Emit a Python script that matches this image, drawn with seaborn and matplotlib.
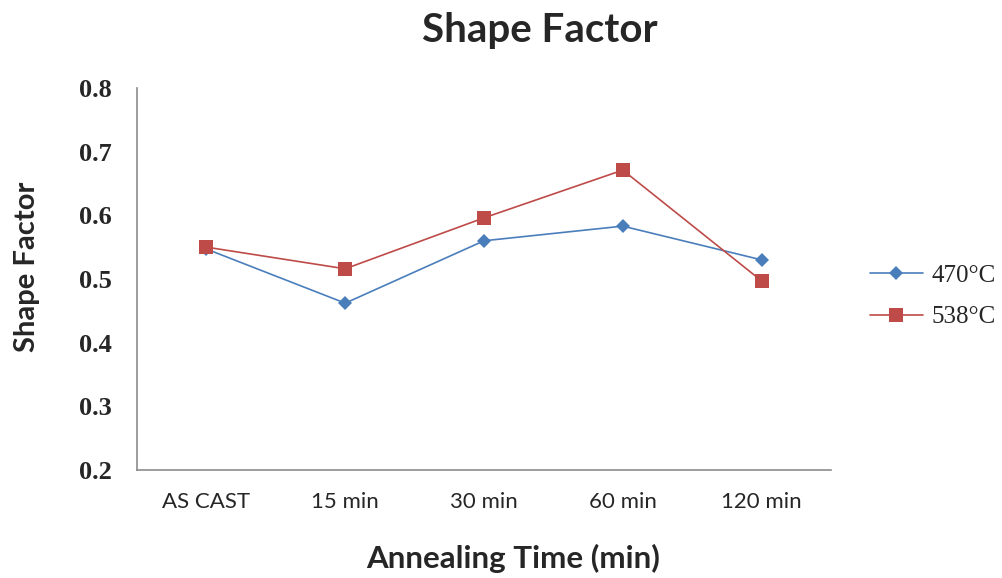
import matplotlib
matplotlib.use("Agg")
import matplotlib.pyplot as plt
import seaborn as sns
import pandas as pd

categories = ["AS CAST", "15 min", "30 min", "60 min", "120 min"]
series_470 = [0.547, 0.462, 0.560, 0.583, 0.530]
series_538 = [0.550, 0.516, 0.596, 0.671, 0.497]
series_names = ["470°C", "538°C"]
y_ticks = [0.2, 0.3, 0.4, 0.5, 0.6, 0.7, 0.8]

df = pd.DataFrame({
    "time": categories * 2,
    "value": series_470 + series_538,
    "series": [series_names[0]] * len(categories) + [series_names[1]] * len(categories),
})

sns.set_style("white")
fig = plt.figure(figsize=(10.03, 5.78), dpi=100)
ax = fig.add_axes([0.1366, 0.1869, 0.6919, 0.6609])

colors = {"470°C": "#4A7EBB", "538°C": "#BE4B48"}
markers = {"470°C": "D", "538°C": "s"}
sizes = {"470°C": 7.5, "538°C": 10}
for name in series_names:
    sub = df[df["series"] == name]
    sns.lineplot(data=sub, x="time", y="value", ax=ax, color=colors[name],
                 marker=markers[name], markersize=sizes[name], linewidth=1.2,
                 markeredgewidth=0, label=name, sort=False)

ax.set_xlim(-0.5, len(categories) - 0.5)
ax.set_ylim(0.2, 0.8)
ax.set_yticks(y_ticks)
ax.set_yticklabels([f"{v:.1f}" for v in y_ticks], family="Liberation Serif",
                   fontsize=19, fontweight="bold")
ax.set_xticks(range(len(categories)))
ax.set_xticklabels(categories, family="Lato", fontsize=16)
ax.tick_params(axis="x", pad=16, length=0)
ax.tick_params(axis="y", pad=18, length=0)

for s in ["top", "right"]:
    ax.spines[s].set_visible(False)
for s in ["left", "bottom"]:
    ax.spines[s].set_color("#8c8c8c")
    ax.spines[s].set_linewidth(1.2)

ax.set_xlabel("Annealing Time (min)", family="Lato", fontsize=22.5, fontweight="bold",
              va="center")
ax.xaxis.set_label_coords(0.5425, -0.2304)
ax.set_ylabel("Shape Factor", family="Lato", fontsize=21, fontweight="bold",
              va="center")
ax.yaxis.set_label_coords(-0.1585, 0.531)
fig.text(0.538, 0.948, "Shape Factor", ha="center", va="center", family="Lato",
         fontsize=29, fontweight="bold")

leg = ax.legend(loc="center left", bbox_to_anchor=(0.8674, 0.487),
                bbox_transform=fig.transFigure, frameon=False, borderpad=0,
                borderaxespad=0, prop={"family": "Liberation Serif", "size": 18},
                handlelength=2.1, handletextpad=0.35, labelspacing=0.75)

fig.savefig("out.png", dpi=100)
